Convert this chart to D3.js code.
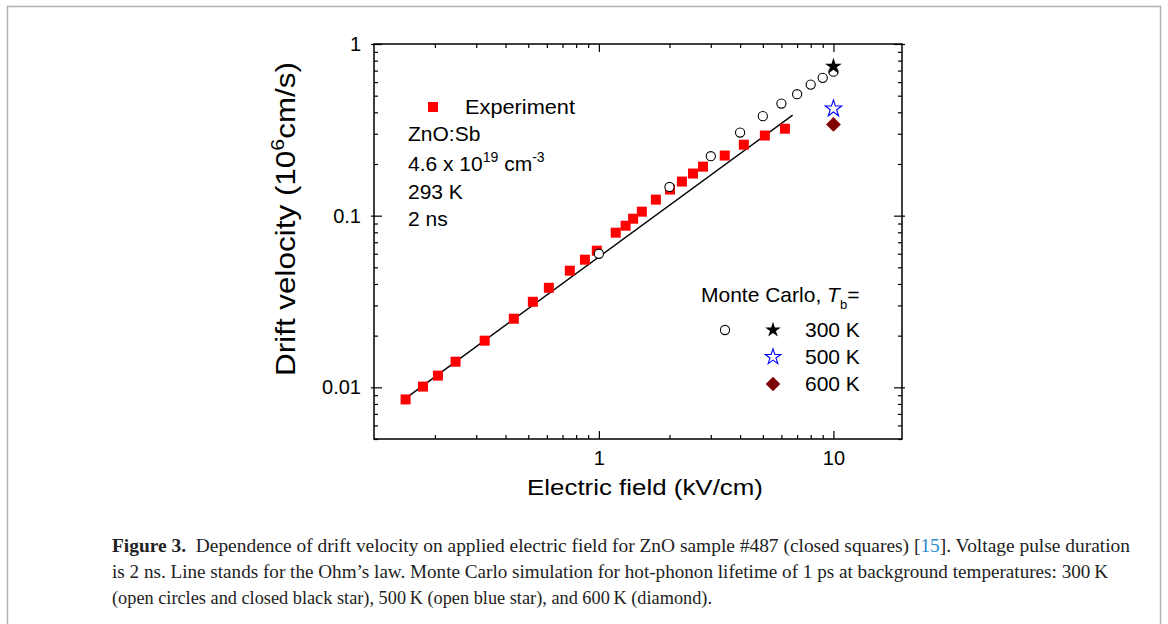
<!DOCTYPE html>
<html>
<head>
<meta charset="utf-8">
<script src="https://cdn.jsdelivr.net/npm/d3@7"></script>
<style>
  body { margin: 0; background: #fff; }
  svg { display: block; }
</style>
</head>
<body>
<div id="chart"></div>
<script>
// experiment (closed red squares)
const expField = [0.15, 0.178, 0.206, 0.245, 0.326, 0.434, 0.523, 0.612, 0.752, 0.872, 0.98,
                  1.18, 1.30, 1.40, 1.525, 1.75, 2.01, 2.26, 2.52, 2.78, 3.44, 4.15, 5.1, 6.21];
const expVel = [0.0085, 0.0101, 0.0117, 0.0141, 0.0187, 0.0251, 0.0315, 0.038, 0.0478, 0.0554, 0.0625,
                0.0796, 0.0874, 0.096, 0.1055, 0.124, 0.142, 0.158, 0.176, 0.193, 0.224, 0.259, 0.293, 0.321];

// Monte Carlo 300 K (open circles)
const mcField = [1, 2, 3, 4, 5, 6, 7, 8, 9, 10];
const mcVel = [0.060, 0.147, 0.222, 0.305, 0.38, 0.45, 0.51, 0.58, 0.635, 0.69];

// single points at 10 kV/cm
const starBlackVel = 0.74;
const starBlueVel = 0.42;
const diamondVel = 0.34;
const pointField = 10;

// Ohm's law line
const ohmField = [0.153, 6.7];
const ohmVel = [0.0088, 0.385];

// ticks
const xMajor = [1, 10];
const yMajor = [0.01, 0.1, 1];

const W = 1168, H = 624;
const font = "'Liberation Sans', Arial, sans-serif";

const svg = d3.select("#chart").append("svg")
    .attr("width", W)
    .attr("height", H)
    .style("background", "#fff");

// page border
svg.append("rect")
    .attr("x", 7.5).attr("y", 6.5)
    .attr("width", 1153).attr("height", 700)
    .attr("fill", "none")
    .attr("stroke", "#b0b0b0")
    .attr("stroke-width", 1.5);

const plot = {left: 374, right: 902, top: 44, bottom: 439};

const x = d3.scaleLog().domain([0.11, 19.6]).range([plot.left, plot.right]);
const y = d3.scaleLog().domain([0.005, 1]).range([plot.bottom, plot.top]);

const xMinor = x.ticks().filter(d => !xMajor.includes(d));
const yMinor = y.ticks().filter(d => !yMajor.some(m => Math.abs(m - d) < 1e-9));

function styleAxis(g) {
    g.select(".domain").remove();
    g.selectAll("line").attr("stroke", "#000").attr("stroke-width", 1.2);
    g.selectAll("text").attr("font-family", font).attr("font-size", "20px").attr("fill", "#000");
}

// bottom axis
svg.append("g").attr("transform", `translate(0,${plot.bottom})`)
    .call(d3.axisBottom(x).tickValues(xMajor).tickSizeInner(-8).tickSizeOuter(0)
        .tickPadding(12).tickFormat(d3.format("~g")))
    .call(styleAxis);
svg.append("g").attr("transform", `translate(0,${plot.bottom})`)
    .call(d3.axisBottom(x).tickValues(xMinor).tickSizeInner(-4).tickSizeOuter(0).tickFormat(""))
    .call(styleAxis);

// top axis
svg.append("g").attr("transform", `translate(0,${plot.top})`)
    .call(d3.axisTop(x).tickValues(xMajor).tickSizeInner(-8).tickSizeOuter(0).tickFormat(""))
    .call(styleAxis);
svg.append("g").attr("transform", `translate(0,${plot.top})`)
    .call(d3.axisTop(x).tickValues(xMinor).tickSizeInner(-4).tickSizeOuter(0).tickFormat(""))
    .call(styleAxis);

// left axis
svg.append("g").attr("transform", `translate(${plot.left},0)`)
    .call(d3.axisLeft(y).tickValues(yMajor).tickSizeInner(-8).tickSizeOuter(0)
        .tickPadding(13).tickFormat(d3.format("~g")))
    .call(styleAxis);
svg.append("g").attr("transform", `translate(${plot.left},0)`)
    .call(d3.axisLeft(y).tickValues(yMajor).tickSizeInner(3).tickSizeOuter(0).tickFormat(""))
    .call(styleAxis);
svg.append("g").attr("transform", `translate(${plot.left},0)`)
    .call(d3.axisLeft(y).tickValues(yMinor).tickSizeInner(-4).tickSizeOuter(0).tickFormat(""))
    .call(styleAxis);

// right axis
svg.append("g").attr("transform", `translate(${plot.right},0)`)
    .call(d3.axisRight(y).tickValues(yMajor).tickSizeInner(-8).tickSizeOuter(0).tickFormat(""))
    .call(styleAxis);
svg.append("g").attr("transform", `translate(${plot.right},0)`)
    .call(d3.axisRight(y).tickValues(yMajor).tickSizeInner(3).tickSizeOuter(0).tickFormat(""))
    .call(styleAxis);
svg.append("g").attr("transform", `translate(${plot.right},0)`)
    .call(d3.axisRight(y).tickValues(yMinor).tickSizeInner(-4).tickSizeOuter(0).tickFormat(""))
    .call(styleAxis);

// frame
svg.append("rect")
    .attr("x", plot.left).attr("y", plot.top)
    .attr("width", plot.right - plot.left).attr("height", plot.bottom - plot.top)
    .attr("fill", "none")
    .attr("stroke", "#000")
    .attr("stroke-width", 1.5);

// Ohm's law line
svg.append("path")
    .datum(ohmField.map((d, i) => [d, ohmVel[i]]))
    .attr("d", d3.line().x(d => x(d[0])).y(d => y(d[1])))
    .attr("fill", "none")
    .attr("stroke", "#000")
    .attr("stroke-width", 1.4);

// experiment squares
svg.append("g").selectAll("path")
    .data(expField.map((d, i) => [d, expVel[i]]))
    .join("path")
    .attr("transform", d => `translate(${x(d[0])},${y(d[1])})`)
    .attr("d", d3.symbol(d3.symbolSquare, 100))
    .attr("fill", "#ff0000");

// Monte Carlo circles
svg.append("g").selectAll("circle")
    .data(mcField.map((d, i) => [d, mcVel[i]]))
    .join("circle")
    .attr("cx", d => x(d[0]))
    .attr("cy", d => y(d[1]))
    .attr("r", 4.6)
    .attr("fill", "#fff")
    .attr("stroke", "#000")
    .attr("stroke-width", 1.1);

const starPath = d3.symbol(d3.symbolStar, 85);
const diamondPath = d3.symbol(d3.symbolSquare, 110);

svg.append("path")
    .attr("transform", `translate(${x(pointField)},${y(starBlackVel)})`)
    .attr("d", starPath)
    .attr("fill", "#000");

svg.append("path")
    .attr("transform", `translate(${x(pointField)},${y(starBlueVel)})`)
    .attr("d", starPath)
    .attr("fill", "#fff")
    .attr("stroke", "#0000ff")
    .attr("stroke-width", 1.1);

svg.append("path")
    .attr("transform", `translate(${x(pointField)},${y(diamondVel)}) rotate(45)`)
    .attr("d", diamondPath)
    .attr("fill", "#800000");

// axis titles
svg.append("text")
    .attr("x", 645).attr("y", 495)
    .attr("text-anchor", "middle")
    .attr("font-family", font)
    .attr("font-size", "22px")
    .attr("textLength", 236)
    .attr("lengthAdjust", "spacingAndGlyphs")
    .text("Electric field (kV/cm)");

const yTitle = svg.append("text")
    .attr("transform", "translate(295,219) rotate(-90)")
    .attr("text-anchor", "middle")
    .attr("font-family", font)
    .attr("font-size", "28px")
    .attr("textLength", 314)
    .attr("lengthAdjust", "spacingAndGlyphs");
yTitle.append("tspan").text("Drift velocity (10");
yTitle.append("tspan").attr("dy", -11).attr("font-size", "19px").text("6");
yTitle.append("tspan").attr("dy", 11).text("cm/s)");

// left legend / annotation
const legFont = "21px";
svg.append("path")
    .attr("transform", "translate(433,107)")
    .attr("d", d3.symbol(d3.symbolSquare, 100))
    .attr("fill", "#ff0000");

svg.append("text").attr("x", 465).attr("y", 114)
    .attr("font-family", font).attr("font-size", legFont)
    .attr("textLength", 110).attr("lengthAdjust", "spacingAndGlyphs")
    .text("Experiment");

svg.append("text").attr("x", 408).attr("y", 141)
    .attr("font-family", font).attr("font-size", legFont)
    .text("ZnO:Sb");

const conc = svg.append("text").attr("x", 408).attr("y", 171)
    .attr("font-family", font).attr("font-size", legFont);
conc.append("tspan").text("4.6 x 10");
conc.append("tspan").attr("dy", -9).attr("font-size", "14px").text("19");
conc.append("tspan").attr("dy", 9).text(" cm");
conc.append("tspan").attr("dy", -9).attr("font-size", "14px").text("-3");

svg.append("text").attr("x", 408).attr("y", 199)
    .attr("font-family", font).attr("font-size", legFont)
    .text("293 K");

svg.append("text").attr("x", 408).attr("y", 226)
    .attr("font-family", font).attr("font-size", legFont)
    .text("2 ns");

// Monte Carlo legend
const mc = svg.append("text").attr("x", 701).attr("y", 302)
    .attr("font-family", font).attr("font-size", legFont);
mc.append("tspan").text("Monte Carlo, ");
mc.append("tspan").attr("font-style", "italic").text("T");
mc.append("tspan").attr("dy", 7).attr("font-size", "13px").text("b");
mc.append("tspan").attr("dy", -7).text("=");

svg.append("circle")
    .attr("cx", 725).attr("cy", 330).attr("r", 4.6)
    .attr("fill", "#fff").attr("stroke", "#000").attr("stroke-width", 1.1);

const legStar = d3.symbol(d3.symbolStar, 75);
svg.append("path").attr("transform", "translate(773,330)")
    .attr("d", legStar).attr("fill", "#000");
svg.append("path").attr("transform", "translate(773,357)")
    .attr("d", legStar).attr("fill", "#fff").attr("stroke", "#0000ff").attr("stroke-width", 1.1);
svg.append("path").attr("transform", "translate(773,384) rotate(45)")
    .attr("d", d3.symbol(d3.symbolSquare, 105)).attr("fill", "#800000");

const tempLabels = ["300 K", "500 K", "600 K"];
const tempY = [337, 364, 391];
tempLabels.forEach((t, i) => {
    svg.append("text").attr("x", 805).attr("y", tempY[i])
        .attr("font-family", font).attr("font-size", legFont)
        .text(t);
});

// caption
const capFont = "'Liberation Serif', 'Times New Roman', serif";

const cap1 = svg.append("text").attr("x", 112).attr("y", 552)
    .attr("font-family", capFont).attr("font-size", "19.5px").attr("fill", "#222")
    .attr("textLength", 1018).attr("lengthAdjust", "spacingAndGlyphs");
cap1.append("tspan").attr("font-weight", "bold").text("Figure 3.");
cap1.append("tspan").text("\u2002Dependence of drift velocity on applied electric field for ZnO sample #487 (closed squares) [");
cap1.append("tspan").attr("fill", "#2a8ccb").text("15");
cap1.append("tspan").text("]. Voltage pulse duration");

svg.append("text").attr("x", 112).attr("y", 578)
    .attr("font-family", capFont).attr("font-size", "19.5px").attr("fill", "#222")
    .attr("textLength", 996).attr("lengthAdjust", "spacingAndGlyphs")
    .text("is 2 ns. Line stands for the Ohm\u2019s law. Monte Carlo simulation for hot-phonon lifetime of 1 ps at background temperatures: 300\u2009K");

svg.append("text").attr("x", 112).attr("y", 604)
    .attr("font-family", capFont).attr("font-size", "19.5px").attr("fill", "#222")
    .attr("textLength", 600).attr("lengthAdjust", "spacingAndGlyphs")
    .text("(open circles and closed black star), 500\u2009K (open blue star), and 600\u2009K (diamond).");
</script>
</body>
</html>
